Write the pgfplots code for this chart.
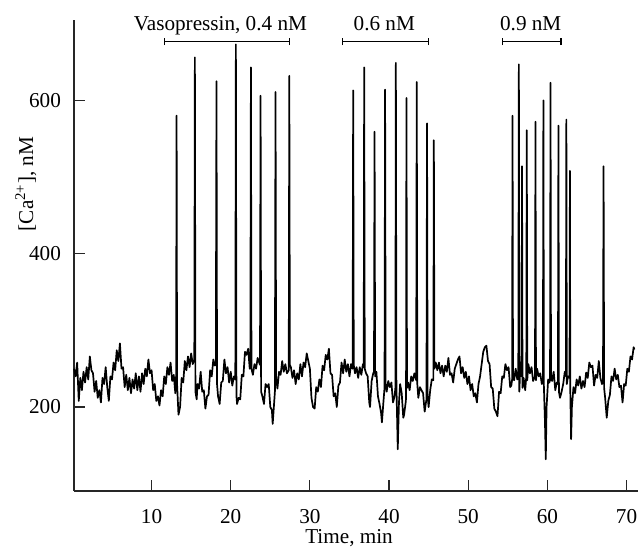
\documentclass[border=0pt]{standalone}
\usepackage{fontspec}
\setmainfont{Liberation Serif}
\usepackage{pgfplots}
\usepackage{pgfplotstable}
\pgfplotsset{compat=1.18}
\pgfplotstableread{
x y
0.2 250
0.4 240
0.6 258
0.8 208
1.0 238
1.2 222
1.4 246
1.6 232
1.8 252
2.0 236
2.2 266
2.4 248
2.6 244
2.8 220
3.0 234
3.2 212
3.4 222
3.6 206
3.8 238
4.0 230
4.2 252
4.4 226
4.6 208
4.8 240
5.0 236
5.2 258
5.4 248
5.6 274
5.8 260
6.0 283
6.2 250
6.4 252
6.6 226
6.8 242
7.0 222
7.2 238
7.4 218
7.6 236
7.8 224
8.0 244
8.2 222
8.4 240
8.6 220
8.8 244
9.0 230
9.2 250
9.4 240
9.6 262
9.8 244
10.0 248
10.2 222
10.4 230
10.6 208
10.8 214
11.0 202
11.2 222
11.4 214
11.6 240
11.8 230
12.0 252
12.2 242
12.4 258
12.6 234
12.8 242
13.0 218
13.1 240
13.16 580
13.22 230
13.4 190
13.6 200
13.8 238
14.0 232
14.2 260
14.4 248
14.6 266
14.8 252
15.0 270
15.2 256
15.4 262
15.47 656
15.54 220
15.7 210
15.8 230
16.0 224
16.2 246
16.4 220
16.6 222
16.8 198
17.0 214
17.2 216
17.4 248
17.6 240
17.8 262
18.0 254
18.12 258
18.2 625
18.27 230
18.4 214
18.6 204
18.8 232
19.0 234
19.2 262
19.4 244
19.6 252
19.8 232
20.0 246
20.2 228
20.4 240
20.58 236
20.65 673
20.72 215
20.8 204
21.0 212
21.2 210
21.4 242
21.6 240
21.8 272
22.0 268
22.2 276
22.4 250
22.48 255
22.55 643
22.62 250
22.8 242
23.0 256
23.2 250
23.4 264
23.7 255
23.77 606
23.84 220
24.0 214
24.2 204
24.4 230
24.6 226
24.8 230
25.0 200
25.2 196
25.3 178
25.58 220
25.66 611
25.73 240
25.9 224
26.1 246
26.3 242
26.5 260
26.7 246
26.9 256
27.1 244
27.33 248
27.4 632
27.47 255
27.6 252
27.8 238
28.0 248
28.2 230
28.4 244
28.6 236
28.8 256
29.0 240
29.2 258
29.4 252
29.6 270
29.8 260
30.0 250
30.2 212
30.4 200
30.6 198
30.8 226
31.0 220
31.2 236
31.4 226
31.6 254
31.8 248
32.0 268
32.2 262
32.4 276
32.6 244
32.8 242
33.0 214
33.2 218
33.4 200
33.6 228
33.8 232
34.0 258
34.2 244
34.4 262
34.6 246
34.8 256
35.0 240
35.2 256
35.4 250
35.47 613
35.54 255
35.7 244
35.9 252
36.1 238
36.3 252
36.5 242
36.7 256
36.8 252
36.86 643
36.93 250
37.1 244
37.3 240
37.5 206
37.6 200
37.8 234
38.0 244
38.1 246
38.17 559
38.24 240
38.4 246
38.6 214
38.8 204
39.0 192
39.1 180
39.3 208
39.43 225
39.5 614
39.57 230
39.7 220
39.9 234
40.1 226
40.3 232
40.5 206
40.7 214
40.8 225
40.86 649
40.93 230
41.1 145
41.25 205
41.4 230
41.6 218
41.8 186
41.9 190
42.1 206
42.15 212
42.2 603
42.27 225
42.4 232
42.6 222
42.8 240
43.0 234
43.2 244
43.43 235
43.5 624
43.57 230
43.7 212
43.9 226
44.1 222
44.3 218
44.5 194
44.65 205
44.73 210
44.8 570
44.87 215
45.0 200
45.2 222
45.4 236
45.6 235
45.66 548
45.73 250
45.9 258
46.1 248
46.3 258
46.5 244
46.7 254
46.9 240
47.1 254
47.3 246
47.5 264
47.7 242
47.9 244
48.1 232
48.3 250
48.5 256
48.7 262
48.9 266
49.1 244
49.3 252
49.5 238
49.7 246
49.9 230
50.1 240
50.3 222
50.5 230
50.7 214
50.9 218
51.1 206
51.3 230
51.5 240
51.7 256
51.9 272
52.1 278
52.3 280
52.5 260
52.7 256
52.9 226
53.1 224
53.3 198
53.5 194
53.7 188
53.9 220
54.1 218
54.3 240
54.5 238
54.7 256
54.9 248
55.1 252
55.3 226
55.45 228
55.55 236
55.6 580
55.66 240
55.8 235
56.0 250
56.2 236
56.33 240
56.4 647
56.46 220
56.6 258
56.74 240
56.8 514
56.86 225
57.0 238
57.2 222
57.34 240
57.4 561
57.46 235
57.6 256
57.8 244
58.0 252
58.2 234
58.44 240
58.5 572
58.56 235
58.7 250
58.9 240
59.1 244
59.3 230
59.44 232
59.5 600
59.56 228
59.7 180
59.8 132
59.9 200
60.1 236
60.25 232
60.34 235
60.4 623
60.46 240
60.6 234
60.8 246
61.0 222
61.2 232
61.34 230
61.4 567
61.46 220
61.6 212
61.8 220
62.0 230
62.2 246
62.34 240
62.4 575
62.46 230
62.6 240
62.8 238
62.85 508
62.9 220
63.0 158
63.1 200
63.3 226
63.5 218
63.7 236
63.9 228
64.1 240
64.3 224
64.5 234
64.7 226
64.9 245
65.1 238
65.3 258
65.5 252
65.7 254
65.9 228
66.1 242
66.3 238
66.5 260
66.7 238
66.9 230
67.03 232
67.1 514
67.17 225
67.3 212
67.5 186
67.7 208
67.9 216
68.1 240
68.3 234
68.5 250
68.7 236
68.9 242
69.1 226
69.3 228
69.5 206
69.7 230
69.9 228
70.1 250
70.3 246
70.5 266
70.7 262
70.9 278
71.0 275
}\trace
\begin{document}
\begin{tikzpicture}[font=\fontsize{10.6}{12.7}\selectfont]
\begin{axis}[
  name=ax,
  scale only axis,
  width=281.8pt, height=235.5pt,
  xmin=0.2, xmax=71.4,
  ymin=90.5, ymax=704.8,
  axis x line=bottom, axis y line=left,
  axis line style={-, line width=0.7pt, black!85},
  xtick={10,20,30,40,50,60,70},
  ytick={200,400,600},
  tick align=inside,
  major tick length=5.5pt,
  tick style={line width=0.6pt, black!85},
  /pgf/number format/assume math mode=true,
  xticklabel style={yshift=-5.8pt},
  yticklabel style={xshift=-3pt},
  xlabel={Time, min},
  ylabel={[Ca\textsuperscript{2+}], nM},
  xlabel style={at={(axis description cs:0.488,0)}, anchor=base, yshift=-26.2pt},
  ylabel style={at={(axis description cs:-0.0727,0.652)}, anchor=base, rotate=0},
  clip=false,
]
\addplot[black, line width=0.85pt, line join=round, mark=none] table[x=x, y=y] {\trace};
% stimulus bars
\draw[line width=0.7pt] (axis cs:11.6,676.5) -- (axis cs:27.4,676.5);
\draw[line width=0.7pt] (axis cs:11.6,672) -- (axis cs:11.6,681);
\draw[line width=0.7pt] (axis cs:27.4,672) -- (axis cs:27.4,681);
\draw[line width=0.7pt] (axis cs:34.1,676.5) -- (axis cs:44.95,676.5);
\draw[line width=0.7pt] (axis cs:34.1,672) -- (axis cs:34.1,681);
\draw[line width=0.7pt] (axis cs:44.95,672) -- (axis cs:44.95,681);
\draw[line width=0.7pt] (axis cs:54.3,676.5) -- (axis cs:61.7,676.5);
\draw[line width=0.7pt] (axis cs:54.3,672) -- (axis cs:54.3,681);
\draw[line width=0.7pt] (axis cs:61.7,672) -- (axis cs:61.7,681);
\node[anchor=base, inner sep=0pt] at (axis cs:18.7,691) {Vasopressin, 0.4 nM};
\node[anchor=base, inner sep=0pt] at (axis cs:39.4,691) {0.6 nM};
\node[anchor=base, inner sep=0pt] at (axis cs:57.9,691) {0.9 nM};
\end{axis}
\pgfresetboundingbox
\path ([xshift=-37pt,yshift=-30.5pt]ax.south west) rectangle ([xshift=282pt,yshift=245.5pt]ax.south west);
\end{tikzpicture}
\end{document}
